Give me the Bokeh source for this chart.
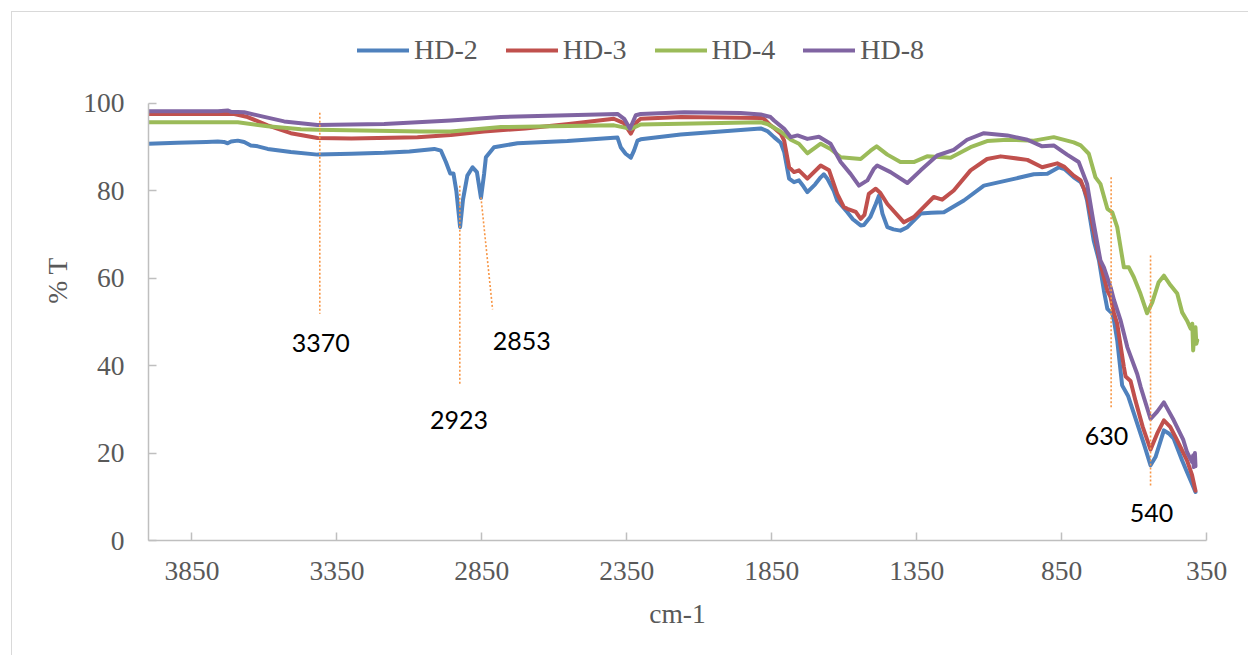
from bokeh.plotting import figure
from bokeh.models import Range1d, FixedTicker, Legend, LegendItem, ColumnDataSource
from bokeh.layouts import column
from bokeh.core.properties import value
from bokeh.embed import file_html
from bokeh.resources import INLINE

# ---- FTIR transmittance spectra (%T vs wavenumber, cm-1) ----
hd2_wn = [4000, 3900, 3800, 3761, 3740, 3727, 3715, 3692, 3670, 3647, 3623, 3589,
          3509, 3417, 3300, 3187, 3100, 3014, 2991, 2974, 2959, 2948, 2938, 2925,
          2915, 2900, 2882, 2867, 2853, 2842, 2836, 2808, 2727, 2555, 2382, 2371,
          2354, 2336, 2325, 2313, 2302, 2164, 1980, 1888, 1877, 1865, 1842, 1819,
          1807, 1790, 1773, 1756, 1740, 1727, 1700, 1681, 1670, 1658, 1636, 1624,
          1589, 1570, 1543, 1532, 1510, 1491, 1480, 1468, 1451, 1430, 1406, 1382,
          1336, 1300, 1256, 1187, 1118, 1037, 946, 899, 859, 840, 808, 784, 773,
          762, 739, 721, 704, 692, 675, 669, 658, 641, 620, 600, 566, 543, 526,
          497, 480, 463, 434, 417, 400, 388]
hd2_t = [90.8, 91.0, 91.2, 91.3, 91.2, 90.9, 91.3, 91.5, 91.2, 90.4, 90.2, 89.6,
         88.9, 88.3, 88.5, 88.7, 89.0, 89.6, 89.2, 86.6, 84.0, 84.0, 80.0, 71.7,
         78.0, 83.5, 85.4, 84.3, 78.4, 84.0, 87.7, 90.0, 90.9, 91.4, 92.2, 90.0,
         88.5, 87.6, 89.2, 91.5, 91.8, 92.9, 93.8, 94.3, 94.0, 93.7, 92.3, 91.0,
         88.9, 82.8, 82.0, 82.4, 81.0, 79.7, 81.5, 83.1, 83.8, 82.8, 80.0, 77.8,
         75.1, 73.5, 72.1, 72.2, 74.0, 77.0, 78.9, 74.8, 71.7, 71.2, 70.9, 71.7,
         74.8, 75.0, 75.1, 77.8, 81.2, 82.4, 83.8, 83.9, 85.4, 85.0, 83.1, 82.0, 80.5,
         77.8, 68.6, 64.1, 57.2, 53.0, 51.9, 50.3, 45.8, 35.5, 33.0, 29.0, 22.1, 17.2, 19.1,
         25.2, 24.5, 23.3, 18.3, 15.6, 13.0, 11.1]

hd3_wn = [4000, 3800, 3704, 3658, 3589, 3509, 3417, 3300, 3072, 2957, 2843, 2700,
          2550, 2395, 2360, 2336, 2315, 2302, 2164, 1888, 1877, 1854, 1842, 1819,
          1807, 1790, 1773, 1756, 1727, 1681, 1652, 1624, 1601, 1589, 1560, 1543,
          1530, 1515, 1491, 1475, 1451, 1394, 1360, 1291, 1262, 1222, 1164, 1107,
          1060, 968, 917, 865, 840, 808, 784, 762, 739, 716, 692, 681, 669, 658,
          635, 629, 612, 595, 570, 543, 520, 497, 475, 451, 417, 400, 388]
hd3_t = [97.6, 97.6, 97.6, 96.9, 95.0, 93.2, 92.1, 92.0, 92.3, 92.8, 93.6, 94.3,
         95.3, 96.5, 95.5, 93.1, 95.8, 96.5, 96.9, 96.7, 96.5, 95.0, 94.4, 93.1,
         91.5, 85.4, 84.3, 84.7, 82.8, 85.8, 84.7, 79.3, 76.3, 75.9, 75.2, 73.6,
         74.5, 79.3, 80.5, 79.5, 77.0, 72.8, 74.0, 78.6, 78.0, 80.1, 84.7, 87.3,
         87.9, 87.1, 85.4, 86.3, 85.5, 83.5, 82.4, 78.6, 70.9, 63.3, 57.2, 55.7, 52.0, 49.6,
         39.7, 37.5, 36.5, 32.0, 26.0, 20.8, 24.5, 27.5, 26.0, 22.9, 18.3, 15.0, 11.4]

hd4_wn = [4000, 3692, 3589, 3474, 3417, 3060, 2957, 2784, 2394, 2336, 2302, 1888,
          1865, 1819, 1784, 1756, 1727, 1681, 1647, 1612, 1543, 1509, 1488, 1451,
          1406, 1360, 1314, 1233, 1164, 1107, 1037, 946, 877, 808, 784, 756, 733,
          716, 692, 675, 658, 635, 618, 601, 578, 555, 537, 515, 497, 474, 451,
          434, 417, 405, 399, 396, 392, 388, 385, 382]
hd4_t = [95.7, 95.7, 94.8, 94.1, 94.0, 93.6, 93.6, 94.6, 95.0, 94.2, 95.2, 95.7,
         95.3, 93.6, 91.7, 90.8, 88.6, 90.8, 89.6, 87.7, 87.3, 89.2, 90.2, 88.3,
         86.6, 86.6, 87.9, 87.6, 90.0, 91.4, 91.7, 91.5, 92.3, 91.1, 90.4, 88.5, 83.1,
         81.6, 75.9, 75.1, 71.7, 62.5, 62.5, 60.3, 56.5, 52.0, 54.5, 59.1, 60.6, 58.4, 56.5,
         52.2, 50.3, 48.5, 49.6, 43.5, 47.5, 48.8, 45.0, 45.8]

hd8_wn = [4000, 3760, 3727, 3715, 3670, 3612, 3532, 3417, 3187, 2957, 2784, 2382,
          2359, 2339, 2319, 2302, 2152, 1957, 1888, 1854, 1842, 1807, 1784, 1761,
          1727, 1687, 1647, 1612, 1578, 1549, 1520, 1497, 1486, 1440, 1382, 1336,
          1279, 1222, 1176, 1118, 1037, 968, 917, 877, 831, 791, 762, 739, 716, 704,
          681, 669, 647, 623, 589, 577, 543, 520, 497, 463, 430, 417, 400, 396, 394,
          390, 388]
hd8_t = [98.2, 98.2, 98.4, 98.1, 98.0, 97.1, 95.9, 95.1, 95.3, 96.1, 96.9, 97.6,
         96.5, 94.2, 97.3, 97.6, 98.0, 97.8, 97.5, 96.9, 96.1, 94.2, 92.3, 92.7,
         91.9, 92.4, 90.8, 86.6, 83.9, 81.2, 82.4, 85.1, 85.8, 84.3, 81.8, 84.7,
         88.1, 89.4, 91.7, 93.2, 92.7, 91.7, 90.2, 90.4, 88.3, 86.6, 81.6, 72.5, 64.1, 62.5,
         58.0, 55.0, 50.5, 44.2, 38.1, 35.1, 27.8, 29.5, 31.6, 27.5, 23.0, 20.2, 18.0, 19.5, 16.8,
         20.0, 17.0]

series_names = ["HD-2", "HD-3", "HD-4", "HD-8"]
series_colors = ["#4F81BD", "#C0504D", "#9BBB59", "#8064A2"]

# peak call-outs: label text, label anchor (wn, %T), leader line ends
peak_labels = ["3370", "2923", "2853", "630", "540"]
label_wn = [3406, 2929, 2712, 695, 540]
label_t = [45.1, 27.5, 45.6, 24.0, 6.4]
leader_x0 = [3409, 2926, 2853, 679, 543]
leader_x1 = [3409, 2926, 2813, 679, 543]
leader_y0 = [97.9, 81.2, 78.5, 83.1, 65.2]
leader_y1 = [51.9, 35.5, 52.9, 30.2, 12.6]

x_ticks = [3850, 3350, 2850, 2350, 1850, 1350, 850, 350]
y_ticks = [0, 20, 40, 60, 80, 100]

serif = "Liberation Serif"
grey_text = "#595959"
axis_grey = "#bfbfbf"

# the frame reaches above 100 %T so the legend can sit inside it;
# the y axis itself is bounded to 0..100
p = figure(width=1236, height=643, output_backend="svg", toolbar_location=None,
           x_range=Range1d(4000, 350), y_range=Range1d(0, 118.99),
           min_border_left=136, min_border_right=42, min_border_top=8,
           min_border_bottom=115, background_fill_color="white",
           border_fill_color="white", outline_line_color=None)

p.xgrid.visible = False
p.ygrid.visible = False

for ax, ticks in ((p.xaxis, x_ticks), (p.yaxis, y_ticks)):
    ax.ticker = FixedTicker(ticks=ticks)
    ax.minor_tick_line_color = None
    ax.major_tick_in = 8
    ax.major_tick_out = 0
    ax.axis_line_color = axis_grey
    ax.axis_line_width = 1.5
    ax.major_tick_line_color = axis_grey
    ax.major_tick_line_width = 1.5
    ax.major_label_text_font = serif
    ax.major_label_text_font_size = "27.5px"
    ax.major_label_text_color = grey_text
    ax.axis_label_text_font = serif
    ax.axis_label_text_font_size = "27.5px"
    ax.axis_label_text_color = grey_text
    ax.axis_label_text_font_style = "normal"

p.yaxis.bounds = (0, 100)
p.xaxis.axis_label = "cm-1"
p.yaxis.axis_label = "% T"
p.xaxis.major_label_standoff = 21
p.yaxis.major_label_standoff = 24
p.xaxis.axis_label_standoff = 15
p.yaxis.axis_label_standoff = 7

renderers = []
for wn, t, color in ((hd2_wn, hd2_t, series_colors[0]), (hd3_wn, hd3_t, series_colors[1]),
                     (hd4_wn, hd4_t, series_colors[2]), (hd8_wn, hd8_t, series_colors[3])):
    r = p.line(wn, t, line_color=color, line_width=4, line_join="round", line_cap="round")
    renderers.append(r)

# leader lines for the annotated bands
p.segment(x0=leader_x0, y0=leader_y0, x1=leader_x1, y1=leader_y1,
          line_color="#F79646", line_width=1.6, line_dash="2 2")

label_src = ColumnDataSource(dict(x=label_wn, y=label_t, text=peak_labels))
p.text(x="x", y="y", text="text", source=label_src, text_font=value("Lato"),
       text_font_size="25px", text_color="black", text_align="center",
       text_baseline="middle")

legend = Legend(items=[LegendItem(label=n, renderers=[r]) for n, r in zip(series_names, renderers)],
                orientation="horizontal", location=(209, 474), padding=0, margin=0,
                spacing=28, glyph_width=52, glyph_height=32, label_standoff=5,
                label_text_font=serif, label_text_font_size="28px",
                label_text_color=grey_text, border_line_color=None,
                background_fill_alpha=0)
p.add_layout(legend)

root = column(p, styles={"margin-left": "11px", "margin-top": "11px",
                         "border-left": "1px solid #d9d9d9",
                         "border-top": "1px solid #d9d9d9"})

open("out.html", "w").write(file_html(root, INLINE))
